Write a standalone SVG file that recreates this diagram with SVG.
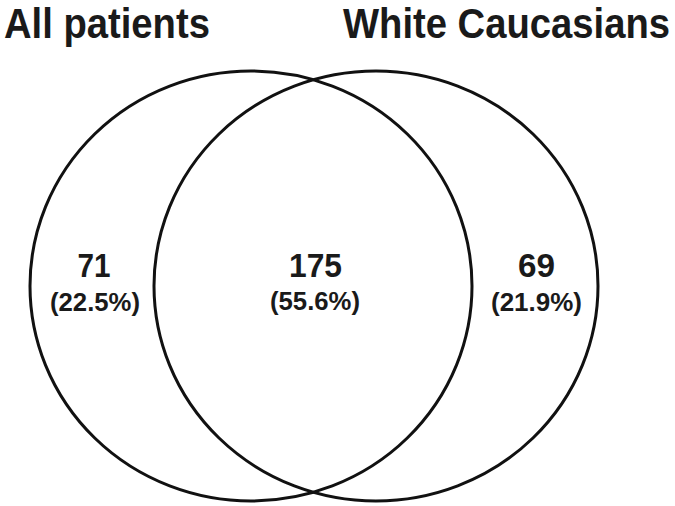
<svg xmlns="http://www.w3.org/2000/svg" width="675" height="506" viewBox="0 0 675 506">
<style>
.c{fill:none;stroke:#111;stroke-width:3}
.t{font-family:"Liberation Sans",Arial,sans-serif;font-weight:bold;fill:#1a1a1a}
.title{font-size:42px}
.n{font-size:33px;text-anchor:middle}
.p{font-size:25px;text-anchor:middle}
</style>
<rect width="675" height="506" fill="#fff"/>
<g id="set-all-patients">
<ellipse class="c" cx="251" cy="286" rx="221" ry="215"/>
<text class="t title" transform="translate(4,38) scale(0.91,1)" x="0" y="0">All patients</text>
</g>
<g id="set-white-caucasians">
<ellipse class="c" cx="376" cy="286" rx="222" ry="215"/>
<text class="t title" transform="translate(343,38) scale(0.91,1)" x="0" y="0">White Caucasians</text>
</g>
<g id="region-left">
<text class="t n" x="94" y="277" textLength="33" lengthAdjust="spacingAndGlyphs">71</text>
<text class="t p" x="95" y="311" textLength="90" lengthAdjust="spacingAndGlyphs">(22.5%)</text>
</g>
<g id="region-center">
<text class="t n" x="315.5" y="277" textLength="53" lengthAdjust="spacingAndGlyphs">175</text>
<text class="t p" x="315" y="310" textLength="90" lengthAdjust="spacingAndGlyphs">(55.6%)</text>
</g>
<g id="region-right">
<text class="t n" x="536.5" y="277" textLength="37" lengthAdjust="spacingAndGlyphs">69</text>
<text class="t p" x="536.5" y="311" textLength="91" lengthAdjust="spacingAndGlyphs">(21.9%)</text>
</g>
<g id="connectors"/>
</svg>
